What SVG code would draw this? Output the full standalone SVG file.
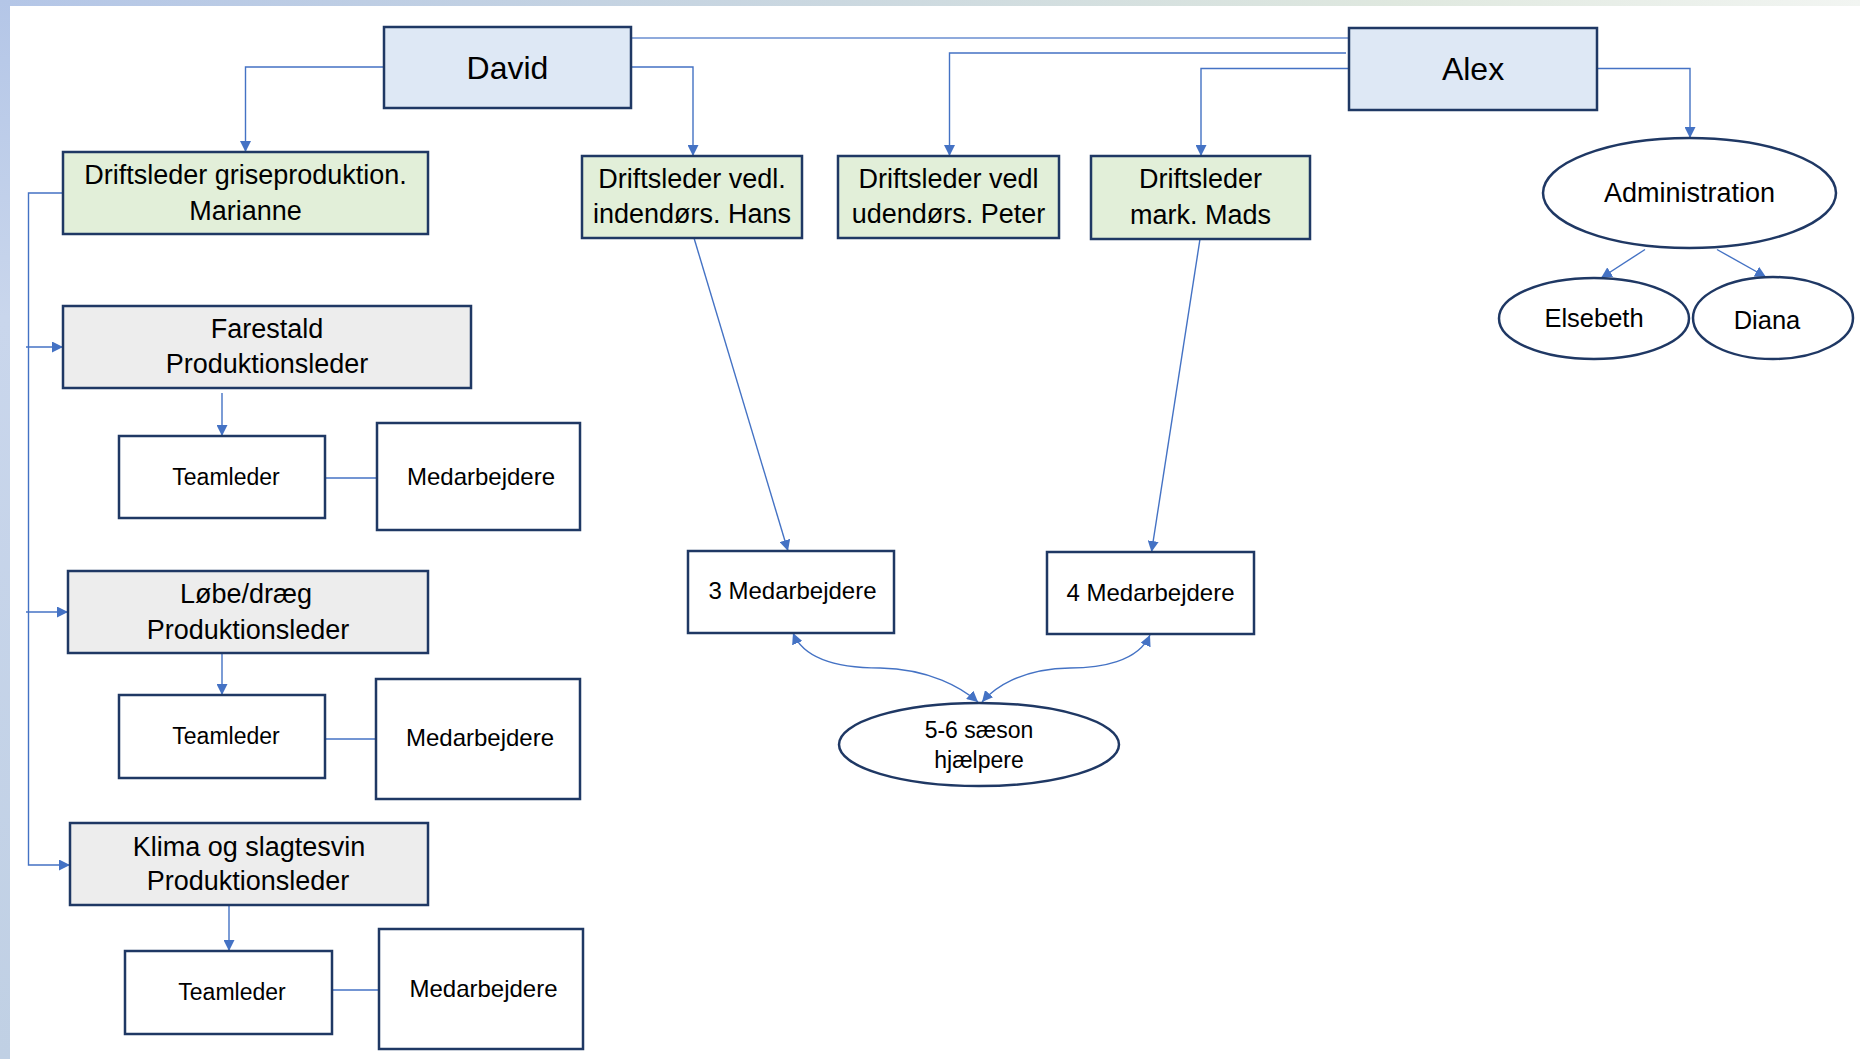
<svg xmlns="http://www.w3.org/2000/svg" width="1860" height="1059" viewBox="0 0 1860 1059">
<defs>
<linearGradient id="topband" x1="0" y1="0" x2="1" y2="0">
<stop offset="0" stop-color="#b4c6e7"/>
<stop offset="0.45" stop-color="#cbd8e0"/>
<stop offset="0.75" stop-color="#dfe8df"/>
<stop offset="1" stop-color="#f2f5f2"/>
</linearGradient>
<linearGradient id="leftband" x1="0" y1="0" x2="0" y2="1">
<stop offset="0" stop-color="#b4c6e7"/>
<stop offset="0.3" stop-color="#c9d6ec"/>
<stop offset="1" stop-color="#c0d0e4"/>
</linearGradient>
<marker id="arr" viewBox="0 0 11 11" refX="11" refY="5.5" markerUnits="userSpaceOnUse" markerWidth="11" markerHeight="11" orient="auto-start-reverse">
<path d="M0,0 L11,5.5 L0,11 z" fill="#4472c4"/>
</marker>
</defs>
<style>
.box{stroke:#1f3864;stroke-width:2.5}
.blue{fill:#dee8f5}
.green{fill:#e2efd9}
.gray{fill:#ededed}
.white{fill:#ffffff}
.t{font-family:"Liberation Sans",Arial,sans-serif;fill:#000;text-anchor:middle}
.big{font-size:32px}
.mid{font-size:27px}
.sm{font-size:23px}
.md{font-size:24px}
.con{fill:none;stroke:#4472c4;stroke-width:1.4}
.conlight{fill:none;stroke:#8faadc;stroke-width:2.2}
</style>
<rect x="0" y="0" width="1860" height="1059" fill="#ffffff"/>
<rect x="0" y="0" width="1860" height="6" fill="url(#topband)"/>
<rect x="0" y="0" width="10" height="1059" fill="url(#leftband)"/>

<g id="connectors">
<path class="con" d="M384,67 H245.5 V152" marker-end="url(#arr)"/>
<path class="con" d="M632,67 H693 V156" marker-end="url(#arr)"/>
<path class="conlight" d="M632,38 H1349"/>
<path class="con" d="M1346,53 H949.5 V156" marker-end="url(#arr)"/>
<path class="con" d="M1349,68.5 H1201 V156" marker-end="url(#arr)"/>
<path class="con" d="M1597,68.5 H1690 V138" marker-end="url(#arr)"/>
<path class="con" d="M1645,249.5 L1601,278" marker-end="url(#arr)"/>
<path class="con" d="M1717,249.5 L1766,277" marker-end="url(#arr)"/>
<path class="con" d="M63,193 H28.5 V865 H70" marker-end="url(#arr)"/>
<path class="con" d="M26,347 H63" marker-end="url(#arr)"/>
<path class="con" d="M26,612 H68" marker-end="url(#arr)"/>
<path class="con" d="M222,393 V436" marker-end="url(#arr)"/>
<path class="con" d="M325,478 H377"/>
<path class="con" d="M222,653 V695" marker-end="url(#arr)"/>
<path class="con" d="M325,739 H376"/>
<path class="con" d="M229,905 V951" marker-end="url(#arr)"/>
<path class="con" d="M332,990 H379"/>
<path class="con" d="M694,238 L788,551" marker-end="url(#arr)"/>
<path class="con" d="M1200,239 L1151.5,552" marker-end="url(#arr)"/>
<path class="con" d="M793,633 C805,662 845,668 880,668 C930,669 962,688 978,702" marker-start="url(#arr)" marker-end="url(#arr)"/>
<path class="con" d="M1150,635 C1138,662 1100,668 1070,668 C1020,669 994,688 982,702" marker-start="url(#arr)" marker-end="url(#arr)"/>
</g>

<g id="david">
<rect class="box blue" x="384" y="27" width="247" height="81"/>
<text class="t big" x="507.5" y="79">David</text>
</g>
<g id="alex">
<rect class="box blue" x="1349" y="28" width="248" height="82"/>
<text class="t big" x="1473" y="80">Alex</text>
</g>
<g id="marianne">
<rect class="box green" x="63" y="152" width="365" height="82"/>
<text class="t mid" x="245.5" y="184">Driftsleder griseproduktion.</text>
<text class="t mid" x="245.5" y="220">Marianne</text>
</g>
<g id="hans">
<rect class="box green" x="582" y="156" width="220" height="82"/>
<text class="t mid" x="692" y="188">Driftsleder vedl.</text>
<text class="t mid" x="692" y="223">indendørs. Hans</text>
</g>
<g id="peter">
<rect class="box green" x="838" y="156" width="221" height="82"/>
<text class="t mid" x="948.5" y="188">Driftsleder vedl</text>
<text class="t mid" x="948.5" y="223">udendørs. Peter</text>
</g>
<g id="mads">
<rect class="box green" x="1091" y="156" width="219" height="83"/>
<text class="t mid" x="1200.5" y="188">Driftsleder</text>
<text class="t mid" x="1200.5" y="224">mark. Mads</text>
</g>
<g id="administration">
<ellipse class="box white" cx="1689.5" cy="193" rx="146.5" ry="55"/>
<text class="t mid" x="1689.5" y="202">Administration</text>
</g>
<g id="elsebeth">
<ellipse class="box white" cx="1594" cy="318.5" rx="95" ry="40.5"/>
<text class="t" style="font-size:25.5px" x="1594" y="327">Elsebeth</text>
</g>
<g id="diana">
<ellipse class="box white" cx="1773" cy="318" rx="80" ry="41"/>
<text class="t" style="font-size:25.5px" x="1767" y="329">Diana</text>
</g>
<g id="farestald">
<rect class="box gray" x="63" y="306" width="408" height="82"/>
<text class="t mid" x="267" y="338">Farestald</text>
<text class="t mid" x="267" y="373">Produktionsleder</text>
</g>
<g id="teamleder1">
<rect class="box white" x="119" y="436" width="206" height="82"/>
<text class="t sm" x="226" y="485">Teamleder</text>
</g>
<g id="medarbejdere1">
<rect class="box white" x="377" y="423" width="203" height="107"/>
<text class="t md" x="481" y="485">Medarbejdere</text>
</g>
<g id="loebe">
<rect class="box gray" x="68" y="571" width="360" height="82"/>
<text class="t mid" x="246" y="603">Løbe/dræg</text>
<text class="t mid" x="248" y="639">Produktionsleder</text>
</g>
<g id="teamleder2">
<rect class="box white" x="119" y="695" width="206" height="83"/>
<text class="t sm" x="226" y="744">Teamleder</text>
</g>
<g id="medarbejdere2">
<rect class="box white" x="376" y="679" width="204" height="120"/>
<text class="t md" x="480" y="746">Medarbejdere</text>
</g>
<g id="klima">
<rect class="box gray" x="70" y="823" width="358" height="82"/>
<text class="t mid" x="249" y="856">Klima og slagtesvin</text>
<text class="t mid" x="248" y="890">Produktionsleder</text>
</g>
<g id="teamleder3">
<rect class="box white" x="125" y="951" width="207" height="83"/>
<text class="t sm" x="232" y="1000">Teamleder</text>
</g>
<g id="medarbejdere3">
<rect class="box white" x="379" y="929" width="204" height="120"/>
<text class="t md" x="483.5" y="997">Medarbejdere</text>
</g>
<g id="med3">
<rect class="box white" x="688" y="551" width="206" height="82"/>
<text class="t md" x="792.5" y="599">3 Medarbejdere</text>
</g>
<g id="med4">
<rect class="box white" x="1047" y="552" width="207" height="82"/>
<text class="t md" x="1150.5" y="601">4 Medarbejdere</text>
</g>
<g id="saeson">
<ellipse class="box white" cx="979" cy="744.5" rx="140" ry="41.5"/>
<text class="t sm" x="979" y="738">5-6 sæson</text>
<text class="t sm" x="979" y="768">hjælpere</text>
</g>
</svg>
